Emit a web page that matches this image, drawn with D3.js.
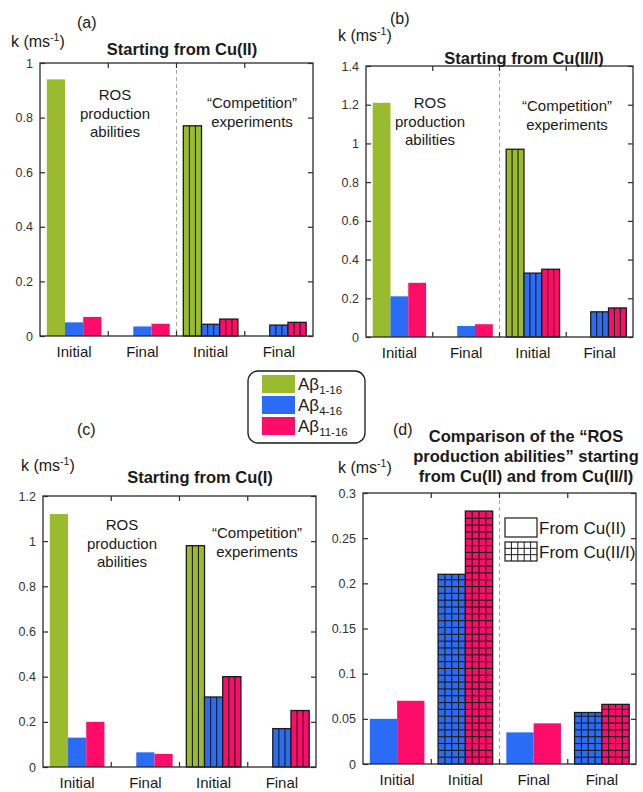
<!DOCTYPE html>
<html><head><meta charset="utf-8">
<script src="https://cdn.jsdelivr.net/npm/d3@7"></script>
<style>
body{margin:0;background:#fff}
svg{display:block;font-family:"Liberation Sans",Arial,Helvetica,sans-serif}
</style>
</head><body>
<svg id="fig" width="643" height="792"></svg>
<script>
// ---- data: rate constants k (ms-1) ----
const groupsABC = ["Initial", "Final", "Initial", "Final"];
const groupsD = ["Initial", "Initial", "Final", "Final"];
const peptideSubs = ["1-16", "4-16", "11-16"];

// (a) starting from Cu(II)
const a_ab1_16 = [0.94, null, 0.77, null];
const a_ab4_16 = [0.05, 0.035, 0.043, 0.04];
const a_ab11_16 = [0.07, 0.045, 0.062, 0.05];

// (b) starting from Cu(II/I)
const b_ab1_16 = [1.21, null, 0.97, null];
const b_ab4_16 = [0.21, 0.057, 0.33, 0.13];
const b_ab11_16 = [0.28, 0.066, 0.35, 0.15];

// (c) starting from Cu(I)
const c_ab1_16 = [1.12, null, 0.98, null];
const c_ab4_16 = [0.13, 0.065, 0.31, 0.17];
const c_ab11_16 = [0.20, 0.058, 0.40, 0.25];

// (d) ROS production abilities: from Cu(II) vs from Cu(II/I)
const d_ab4_16 = [0.05, 0.21, 0.035, 0.057];
const d_ab11_16 = [0.07, 0.28, 0.045, 0.066];

const ticksA = [0, 0.2, 0.4, 0.6, 0.8, 1];
const tickLabelsA = ["0", "0.2", "0.4", "0.6", "0.8", "1"];
const ticksB = [0, 0.2, 0.4, 0.6, 0.8, 1, 1.2, 1.4];
const tickLabelsB = ["0", "0.2", "0.4", "0.6", "0.8", "1", "1.2", "1.4"];
const ticksC = [0, 0.2, 0.4, 0.6, 0.8, 1, 1.2];
const tickLabelsC = ["0", "0.2", "0.4", "0.6", "0.8", "1", "1.2"];
const ticksD = [0, 0.05, 0.1, 0.15, 0.2, 0.25, 0.3];
const tickLabelsD = ["0", "0.05", "0.1", "0.15", "0.2", "0.25", "0.3"];

// ---- styles ----
const GREEN = "#99bb2d", BLUE = "#2a6cf6", PINK = "#fd0c69";
const INK = "#1a1a1a", AXIS = "#2b2b2b";

const svg = d3.select("#fig");

function drawPanel(cfg) {
  const g = svg.append("g");
  const x = d3.scaleBand().domain(d3.range(cfg.groups.length)).range([cfg.left, cfg.right]);
  const y = d3.scaleLinear().domain([0, cfg.yMax]).range([cfg.bottom, cfg.top]);
  const bwGroup = x.bandwidth();
  const inner = d3.scaleBand().domain(d3.range(cfg.series.length))
    .range([bwGroup * 0.1, bwGroup * 0.9]);

  if (cfg.divider) {
    g.append("line")
      .attr("x1", x(2)).attr("x2", x(2))
      .attr("y1", cfg.top).attr("y2", cfg.bottom)
      .attr("stroke", "#a8a8a8").attr("stroke-width", 1)
      .attr("stroke-dasharray", "4,3");
  }

  // bars
  cfg.series.forEach((s, si) => {
    s.values.forEach((v, gi) => {
      if (v == null) return;
      const bx = x(gi) + inner(si), bw = inner.bandwidth();
      const by = y(v), bh = y(0) - y(v);
      const style = cfg.hatch[gi];
      g.append("rect").attr("x", bx).attr("y", by)
        .attr("width", bw).attr("height", bh).attr("fill", s.color);
      if (style === "lines" || style === "grid") {
        const n = style === "lines" ? 3 : 4;
        const hg = g.append("g").attr("stroke", INK).attr("stroke-width", 1.1);
        for (let k = 1; k < n; k++) {
          hg.append("line").attr("x1", bx + k * bw / n).attr("x2", bx + k * bw / n)
            .attr("y1", by).attr("y2", y(0));
        }
        if (style === "grid") {
          const cell = bw / n;
          for (let yy = y(0) - cell; yy > by + 1; yy -= cell) {
            hg.append("line").attr("x1", bx).attr("x2", bx + bw)
              .attr("y1", yy).attr("y2", yy);
          }
        }
        g.append("rect").attr("x", bx).attr("y", by)
          .attr("width", bw).attr("height", bh)
          .attr("fill", "none").attr("stroke", INK).attr("stroke-width", 1.3);
      }
    });
  });

  // frame
  g.append("rect").attr("x", cfg.left).attr("y", cfg.top)
    .attr("width", cfg.right - cfg.left).attr("height", cfg.bottom - cfg.top)
    .attr("fill", "none").attr("stroke", AXIS).attr("stroke-width", 1.3);

  // y axes (inward ticks on both sides)
  const yl = g.append("g").attr("transform", `translate(${cfg.left},0)`)
    .call(d3.axisLeft(y).tickValues(cfg.yTicks)
      .tickFormat((d, i) => cfg.yLabels[i]).tickSize(-5).tickPadding(7));
  const yr = g.append("g").attr("transform", `translate(${cfg.right},0)`)
    .call(d3.axisRight(y).tickValues(cfg.yTicks).tickFormat("").tickSize(-5));
  [yl, yr].forEach(ax => {
    ax.select(".domain").remove();
    ax.selectAll("line").attr("stroke", AXIS).attr("stroke-width", 1.2);
    ax.selectAll("text").attr("fill", "#333").style("font-size", "12.5px")
      .style("font-family", "'Liberation Sans',Arial,sans-serif");
  });

  // x axis: category labels and boundary ticks
  const xb = g.append("g").attr("transform", `translate(0,${cfg.bottom})`)
    .call(d3.axisBottom(x).tickFormat(i => cfg.groups[i]).tickSize(0).tickPadding(10));
  xb.select(".domain").remove();
  xb.selectAll("text").attr("fill", INK).style("font-size", "15px")
    .style("font-family", "'Liberation Sans',Arial,sans-serif");
  [1, 2, 3].forEach(i => {
    g.append("line").attr("x1", x(i)).attr("x2", x(i))
      .attr("y1", cfg.bottom).attr("y2", cfg.bottom - 5)
      .attr("stroke", AXIS).attr("stroke-width", 1.2);
    g.append("line").attr("x1", x(i)).attr("x2", x(i))
      .attr("y1", cfg.top).attr("y2", cfg.top + 5)
      .attr("stroke", AXIS).attr("stroke-width", 1.2);
  });

  // titles and labels
  const title = g.append("text").attr("text-anchor", "middle")
    .attr("font-weight", "bold").attr("font-size", 16.5).attr("fill", INK);
  cfg.title.forEach((t, i) => {
    title.append("tspan").attr("x", cfg.titleX).attr("y", cfg.titleY + i * 20).text(t);
  });

  const k = g.append("text").attr("x", cfg.kX).attr("y", cfg.kY)
    .attr("font-size", 16).attr("fill", INK);
  k.append("tspan").text("k (ms");
  k.append("tspan").attr("dy", -6).attr("font-size", 10.5).text("-1");
  k.append("tspan").attr("dy", 6).text(")");

  g.append("text").attr("x", cfg.tagX).attr("y", cfg.tagY)
    .attr("font-size", 16).attr("fill", INK).text(cfg.tag);

  (cfg.notes || []).forEach(n => {
    const t = g.append("text").attr("text-anchor", "middle")
      .attr("font-size", 15).attr("fill", INK);
    n.lines.forEach((line, i) => {
      t.append("tspan").attr("x", n.x).attr("y", n.y + i * 18.5).text(line);
    });
  });
  return { x, y, g };
}

const rosNote = ["ROS", "production", "abilities"];
const compNote = ["\u201cCompetition\u201d", "experiments"];
const hatchABC = ["none", "none", "lines", "lines"];

drawPanel({
  left: 40, right: 313, top: 63, bottom: 336, yMax: 1,
  yTicks: ticksA, yLabels: tickLabelsA, groups: groupsABC, divider: true,
  series: [{ values: a_ab1_16, color: GREEN }, { values: a_ab4_16, color: BLUE }, { values: a_ab11_16, color: PINK }],
  hatch: hatchABC,
  title: ["Starting from Cu(II)"], titleX: 182, titleY: 55,
  kX: 11, kY: 47, tag: "(a)", tagX: 77, tagY: 28,
  notes: [{ x: 115, y: 100, lines: rosNote }, { x: 252, y: 108, lines: compNote }]
});

drawPanel({
  left: 366, right: 633, top: 66, bottom: 337, yMax: 1.4,
  yTicks: ticksB, yLabels: tickLabelsB, groups: groupsABC, divider: true,
  series: [{ values: b_ab1_16, color: GREEN }, { values: b_ab4_16, color: BLUE }, { values: b_ab11_16, color: PINK }],
  hatch: hatchABC,
  title: ["Starting from Cu(II/I)"], titleX: 524, titleY: 64,
  kX: 338, kY: 41, tag: "(b)", tagX: 390, tagY: 24,
  notes: [{ x: 430, y: 108, lines: rosNote }, { x: 567, y: 111, lines: compNote }]
});

drawPanel({
  left: 43, right: 316, top: 496, bottom: 767, yMax: 1.2,
  yTicks: ticksC, yLabels: tickLabelsC, groups: groupsABC, divider: false,
  series: [{ values: c_ab1_16, color: GREEN }, { values: c_ab4_16, color: BLUE }, { values: c_ab11_16, color: PINK }],
  hatch: hatchABC,
  title: ["Starting from Cu(I)"], titleX: 200, titleY: 483,
  kX: 21, kY: 471, tag: "(c)", tagX: 77, tagY: 435,
  notes: [{ x: 122, y: 530, lines: rosNote }, { x: 257, y: 538, lines: compNote }]
});

drawPanel({
  left: 363, right: 636, top: 493, bottom: 764, yMax: 0.3,
  yTicks: ticksD, yLabels: tickLabelsD, groups: groupsD, divider: true,
  series: [{ values: d_ab4_16, color: BLUE }, { values: d_ab11_16, color: PINK }],
  hatch: ["none", "grid", "none", "grid"],
  title: ["Comparison of the \u201cROS", "production abilities\u201d starting", "from Cu(II) and from Cu(II/I)"],
  titleX: 526, titleY: 442,
  kX: 338, kY: 473, tag: "(d)", tagX: 393, tagY: 435,
  notes: []
});

// legend inside panel (d): plain vs gridded bars
(function () {
  const g = svg.append("g");
  const sx = 505, sw = 32, sh = 19;
  const rows = [{ y: 518, label: "From Cu(II)", grid: false }, { y: 542, label: "From Cu(II/I)", grid: true }];
  rows.forEach(r => {
    g.append("rect").attr("x", sx).attr("y", r.y).attr("width", sw).attr("height", sh)
      .attr("fill", "#fff").attr("stroke", INK).attr("stroke-width", 1.2);
    if (r.grid) {
      for (let k = 1; k < 5; k++) {
        g.append("line").attr("x1", sx + k * sw / 5).attr("x2", sx + k * sw / 5)
          .attr("y1", r.y).attr("y2", r.y + sh).attr("stroke", INK).attr("stroke-width", 1);
      }
      for (let k = 1; k < 3; k++) {
        g.append("line").attr("x1", sx).attr("x2", sx + sw)
          .attr("y1", r.y + k * sh / 3).attr("y2", r.y + k * sh / 3).attr("stroke", INK).attr("stroke-width", 1);
      }
    }
    g.append("text").attr("x", sx + sw + 2).attr("y", r.y + sh / 2 + 6)
      .attr("font-size", 17).attr("fill", INK).text(r.label);
  });
})();

// main legend: peptide colours
(function () {
  const g = svg.append("g");
  g.append("rect").attr("x", 248).attr("y", 371).attr("width", 117).attr("height", 72)
    .attr("rx", 10).attr("fill", "#fff").attr("stroke", INK).attr("stroke-width", 1.3);
  const colors = [GREEN, BLUE, PINK];
  peptideSubs.forEach((sub, i) => {
    const yy = 375 + i * 21;
    g.append("rect").attr("x", 262).attr("y", yy).attr("width", 33).attr("height", 18)
      .attr("fill", colors[i]);
    const t = g.append("text").attr("x", 298).attr("y", yy + 15)
      .attr("font-size", 17).attr("fill", INK);
    t.append("tspan").text("A\u03b2");
    t.append("tspan").attr("dy", 4).attr("font-size", 11.5).text(sub);
  });
})();
</script>
</body></html>
